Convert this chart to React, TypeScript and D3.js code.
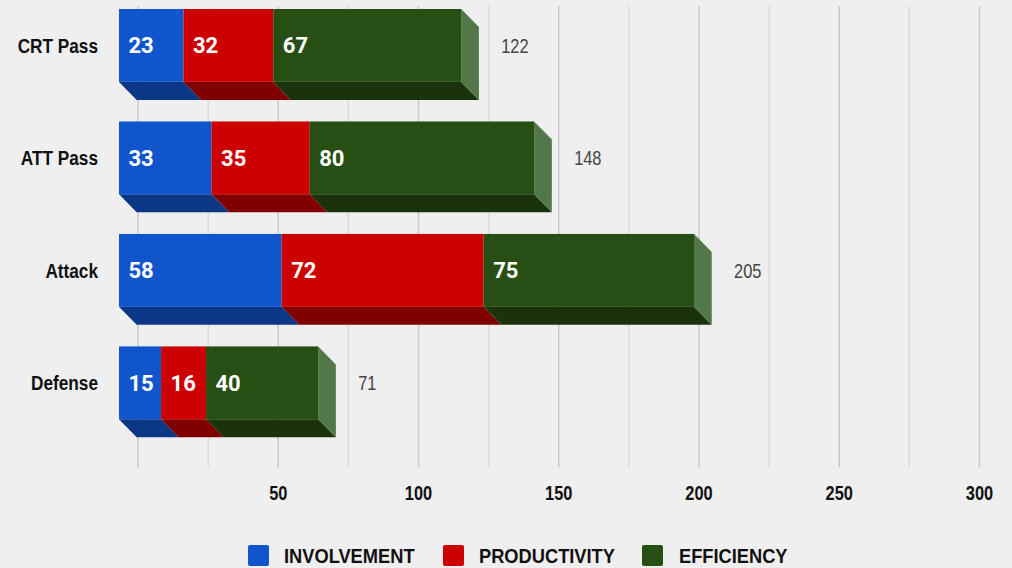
import React from "react";
import * as d3 from "d3";

const categories = ["CRT Pass", "ATT Pass", "Attack", "Defense"];
const involvement = [23, 33, 58, 15];
const productivity = [32, 35, 72, 16];
const efficiency = [67, 80, 75, 40];
const seriesNames = ["INVOLVEMENT", "PRODUCTIVITY", "EFFICIENCY"];
const gridTicks = [0, 25, 50, 75, 100, 125, 150, 175, 200, 225, 250, 275, 300];
const axisLabels = [50, 100, 150, 200, 250, 300];

const W = 1012;
const H = 568;
const DX = 17.7;
const DY = 18;
const GRID_OFF = 19;

const front = ["#1155cc", "#cc0000", "#274e13"];
const bottom = ["#0b3886", "#800000", "#1a330c"];
const side = ["#3a6ad0", "#e03a3a", "#52784a"];

const arialLike = "'Liberation Sans', Arial, sans-serif";
const roboto = "Roboto, 'Noto Sans', sans-serif";

function NarrowText(props: {
  x: number;
  y: number;
  size: number;
  bold?: boolean;
  anchor?: string;
  fill: string;
  dy?: string;
  sx?: number;
  children: React.ReactNode;
}) {
  return (
    <text
      transform={`translate(${props.x},${props.y}) scale(${props.sx ?? 0.82},1)`}
      dy={props.dy}
      textAnchor={props.anchor || "start"}
      fontFamily={arialLike}
      fontWeight={props.bold ? "bold" : "normal"}
      fontSize={props.size}
      fill={props.fill}
    >
      {props.children}
    </text>
  );
}

export default function App() {
  const x = d3.scaleLinear().domain([0, 300]).range([119, 119 + 2.805 * 300]);
  const y = d3
    .scaleBand<string>()
    .domain(categories)
    .range([9, 419.3])
    .paddingInner(0.352)
    .paddingOuter(0);
  const bw = y.bandwidth();
  const series = [involvement, productivity, efficiency];

  const rows = categories.map((c, i) => {
    let acc = 0;
    const segs = series.map((s, k) => {
      const x0 = acc;
      acc += s[i];
      return { k, v: s[i], x0, x1: acc };
    });
    return { c, i, segs, total: acc };
  });

  const legendPos = [
    { sq: 248, tx: 284 },
    { sq: 443, tx: 479 },
    { sq: 642, tx: 679 },
  ];

  return (
    <div style={{ position: "absolute", left: 0, top: 0 }}>
      <svg width={W} height={H} style={{ display: "block" }}>
        <rect width={W} height={H} fill="#efefef" />
        {gridTicks.map((t) => (
          <line
            key={t}
            x1={x(t) + GRID_OFF}
            x2={x(t) + GRID_OFF}
            y1={6}
            y2={467}
            stroke={t % 50 === 0 ? "#c8c8c8" : "#dadada"}
            strokeWidth={1.5}
          />
        ))}
        {axisLabels.map((t) => (
          <NarrowText key={t} x={x(t) + GRID_OFF} y={500} anchor="middle" size={20} bold fill="#111">
            {t}
          </NarrowText>
        ))}
        {rows.map((r) => {
          const top = y(r.c)!;
          const bot = top + bw;
          const cy = top + bw / 2;
          const last = r.segs[r.segs.length - 1];
          const xe = x(r.total);
          return (
            <g key={r.c}>
              {r.segs.map((s) => {
                const a = x(s.x0);
                const b = x(s.x1);
                return (
                  <path
                    key={"b" + s.k}
                    d={`M${a},${bot}L${b},${bot}L${b + DX},${bot + DY}L${a + DX},${bot + DY}Z`}
                    fill={bottom[s.k]}
                  />
                );
              })}
              <path
                d={`M${xe},${top}L${xe + DX},${top + DY}L${xe + DX},${bot + DY}L${xe},${bot}Z`}
                fill={side[last.k]}
              />
              {r.segs.map((s) => (
                <rect
                  key={"f" + s.k}
                  x={x(s.x0)}
                  y={top}
                  width={x(s.x1) - x(s.x0)}
                  height={bw}
                  fill={front[s.k]}
                />
              ))}
              {r.segs.map((s) => (
                <text
                  key={"t" + s.k}
                  x={x(s.x0) + 9.5}
                  y={cy}
                  dy="0.36em"
                  fontFamily={roboto}
                  fontWeight="bold"
                  fontSize={22}
                  fill="#ffffff"
                >
                  {s.v}
                </text>
              ))}
              <NarrowText x={98} y={cy} dy="0.36em" anchor="end" size={21} bold fill="#111">
                {r.c}
              </NarrowText>
              <NarrowText x={xe + 40} y={cy} dy="0.36em" size={20} fill="#444">
                {r.total}
              </NarrowText>
            </g>
          );
        })}
        {seriesNames.map((n, k) => (
          <g key={n}>
            <rect x={legendPos[k].sq} y={545} width={21} height={21} rx={2} fill={front[k]} />
            <NarrowText x={legendPos[k].tx} y={562.7} size={21} sx={0.87} bold fill="#111">
              {n}
            </NarrowText>
          </g>
        ))}
      </svg>
    </div>
  );
}
